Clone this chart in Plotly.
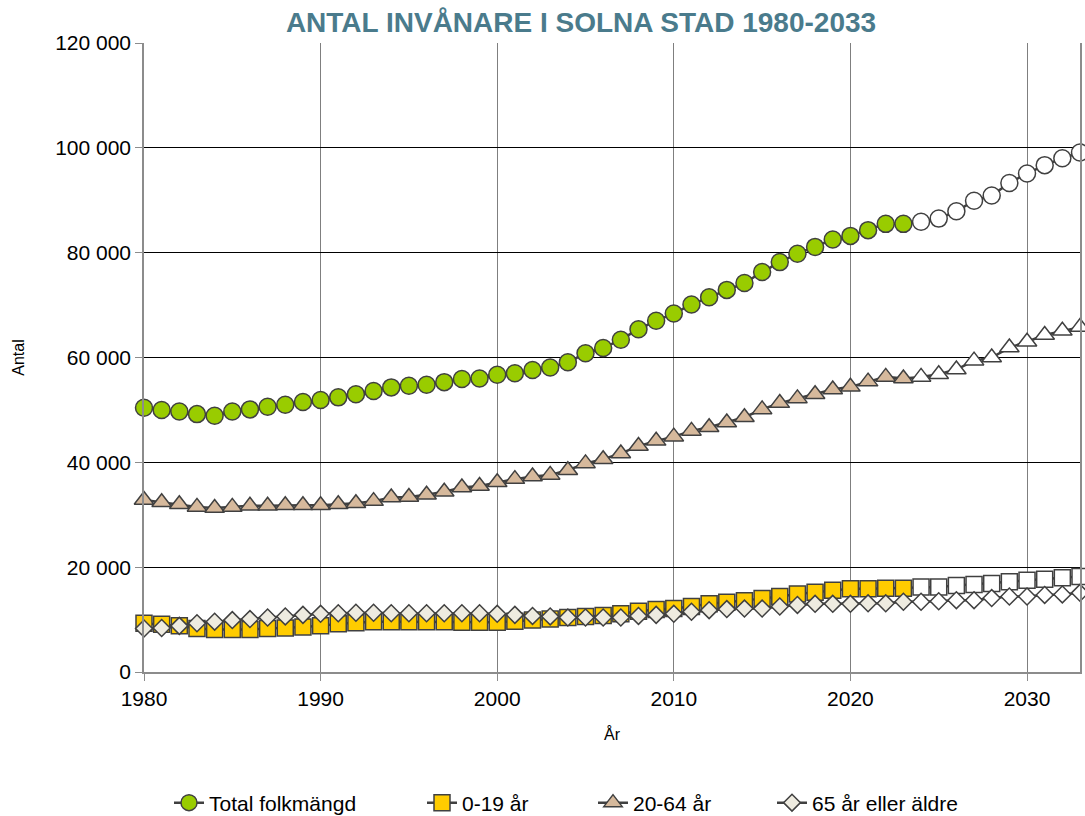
import plotly.graph_objects as go

years = list(range(1980, 2034))
first_projection_year = 2024

total_k = [50.4, 50.0, 49.7, 49.2, 48.9, 49.7, 50.1, 50.6, 51.0, 51.5,
           51.9, 52.4, 53.0, 53.6, 54.3, 54.6, 54.8, 55.3, 55.9, 56.0,
           56.7, 57.0, 57.6, 58.1, 59.1, 60.8, 61.8, 63.4, 65.4, 67.0,
           68.4, 70.1, 71.5, 72.9, 74.2, 76.3, 78.2, 79.8, 81.1, 82.5,
           83.2, 84.3, 85.5, 85.5, 85.9, 86.5, 87.9, 89.9, 90.9, 93.3,
           95.1, 96.7, 98.0, 99.1]
age_0_19_k = [9.3, 9.1, 8.8, 8.3, 8.1, 8.1, 8.1, 8.3, 8.4, 8.6,
              8.8, 9.2, 9.4, 9.6, 9.6, 9.6, 9.6, 9.6, 9.5, 9.5,
              9.5, 9.7, 9.9, 10.1, 10.4, 10.6, 10.8, 11.1, 11.6, 11.9,
              12.1, 12.5, 13.0, 13.3, 13.6, 14.0, 14.4, 14.9, 15.2, 15.6,
              15.9, 15.9, 16.0, 16.0, 16.2, 16.2, 16.5, 16.7, 16.9, 17.2,
              17.5, 17.7, 18.0, 18.2]
age_20_64_k = [32.8, 32.4, 32.0, 31.5, 31.3, 31.5, 31.7, 31.7, 31.8, 31.8,
               31.8, 32.0, 32.2, 32.6, 33.3, 33.4, 33.8, 34.4, 35.2, 35.5,
               36.2, 36.8, 37.3, 37.6, 38.5, 39.8, 40.6, 41.7, 43.1, 44.1,
               44.9, 46.0, 46.7, 47.6, 48.6, 50.1, 51.3, 52.2, 53.0, 53.9,
               54.4, 55.4, 56.3, 56.0, 56.3, 56.8, 57.7, 59.4, 60.0, 61.9,
               63.0, 64.3, 65.1, 65.8]
age_65_plus_k = [8.3, 8.4, 8.8, 9.3, 9.6, 9.9, 10.1, 10.4, 10.6, 10.9,
                 11.1, 11.2, 11.3, 11.3, 11.2, 11.2, 11.2, 11.2, 11.2, 11.2,
                 11.1, 10.9, 10.7, 10.6, 10.4, 10.4, 10.4, 10.4, 10.7, 10.9,
                 11.1, 11.5, 11.8, 12.0, 12.1, 12.1, 12.5, 12.8, 13.0, 13.0,
                 13.0, 13.1, 13.1, 13.4, 13.4, 13.5, 13.7, 13.7, 14.1, 14.4,
                 14.4, 14.7, 14.8, 15.1]

series_names = ["Total folkmängd", "0-19 år", "20-64 år", "65 år eller äldre"]
x_ticks = [1980, 1990, 2000, 2010, 2020, 2030]
y_ticks = [0, 20000, 40000, 60000, 80000, 100000, 120000]

series_values = [[v * 1000 for v in s] for s in (total_k, age_0_19_k, age_20_64_k, age_65_plus_k)]
fills = ["#99CC00", "#FFCC00", "#D6B99C", "#EEEBE0"]
symbols = ["circle", "square", "triangle-up", "diamond"]
sizes = [17, 16, 17, 13]
legend_ids = ["legend", "legend2", "legend3", "legend4"]
legend_text_px = [209, 462, 633, 812]

LINE = "#404040"
fig = go.Figure()
for name, vals, fill, sym, sz, lg in zip(series_names, series_values, fills, symbols, sizes, legend_ids):
    colors = [fill if yr < first_projection_year else "#FFFFFF" for yr in years]
    fig.add_trace(go.Scatter(
        x=years, y=vals, name=name, mode="lines+markers",
        line=dict(color=LINE, width=2.5),
        marker=dict(symbol=sym, size=sz, color=colors,
                    line=dict(color=LINE, width=1.5)),
        cliponaxis=False, legend=lg,
    ))

FONT = "Liberation Sans, Arial, sans-serif"
legend_common = dict(orientation="h", xref="container", xanchor="left",
                     yref="container", y=1 - 803 / 816, yanchor="middle",
                     font=dict(size=21), bgcolor="rgba(0,0,0,0)")
layout_legends = {}
for lg, px in zip(legend_ids, legend_text_px):
    layout_legends[lg] = dict(legend_common, x=(px - 40) / 1085)

fig.update_layout(
    width=1085, height=816,
    margin=dict(l=144, r=3, t=43, b=144),
    paper_bgcolor="white", plot_bgcolor="white",
    separators=", ",
    font=dict(family=FONT, size=20, color="#000000"),
    title=dict(text="ANTAL INVÅNARE I SOLNA STAD 1980-2033",
               x=581 / 1085, xanchor="center", xref="container",
               y=1 - 22 / 816, yanchor="middle", yref="container",
               font=dict(family="Liberation Sans Narrow, Arial Narrow, Liberation Sans, sans-serif",
                         size=28, color="#4A7B8C", weight="bold")),
    showlegend=True,
    xaxis=dict(range=[1980, 2033], tickvals=x_ticks, showgrid=True,
               gridcolor="#7F7F7F", gridwidth=1,
               showline=True, linecolor="#8C8C8C", linewidth=2,
               ticks="outside", ticklen=7, tickcolor="#8C8C8C",
               zeroline=False, tickfont=dict(size=21),
               title=dict(text="År", font=dict(size=16), standoff=20)),
    yaxis=dict(range=[0, 120000], tickvals=y_ticks, tickformat=",d",
               showgrid=True, gridcolor="#000000", gridwidth=1,
               showline=True, linecolor="#8C8C8C", linewidth=1.5, mirror=True,
               ticks="outside", ticklen=7, tickcolor="#8C8C8C",
               zeroline=False, tickfont=dict(size=21),
               title=dict(text="Antal", font=dict(size=16), standoff=27)),
    **layout_legends,
)

fig.write_html("out.html", config={"displayModeBar": False},
               post_script="document.body.style.margin='0';document.body.style.overflow='hidden';")
